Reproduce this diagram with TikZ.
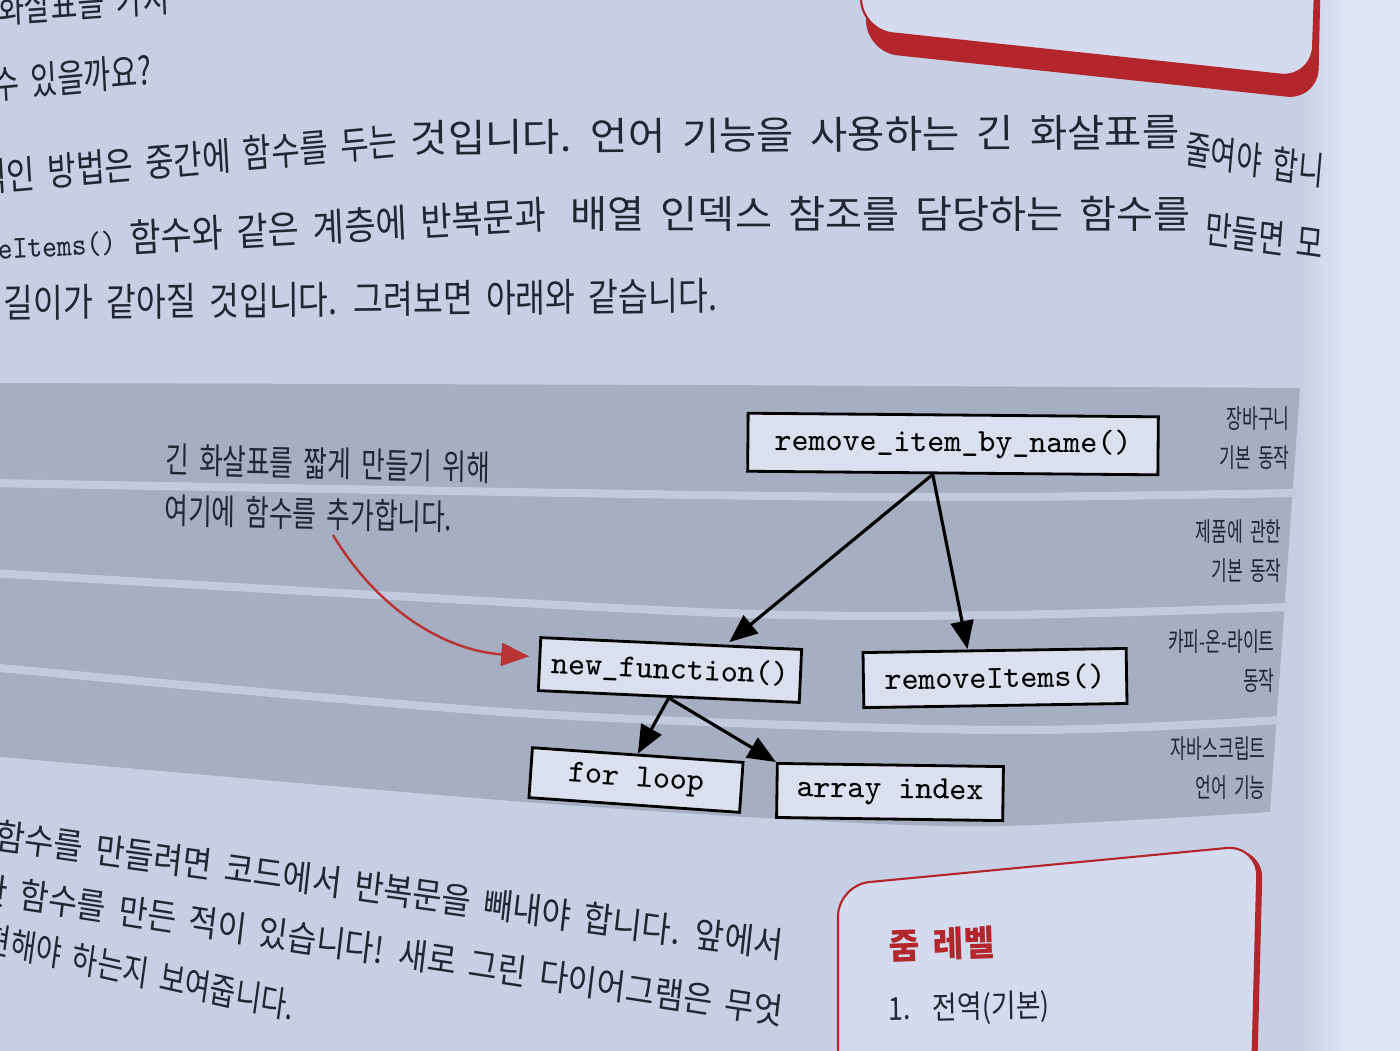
\documentclass[tikz,border=0pt]{standalone}
\usepackage{fontspec}
\usepackage{tikz}
\usetikzlibrary{arrows.meta,calc}
\newfontfamily\kr[WordSpace=1.8]{Noto Sans CJK KR}
\definecolor{paper}{RGB}{198,207,228}
\definecolor{gutter}{RGB}{222,228,244}
\definecolor{band}{RGB}{166,174,193}
\definecolor{sep}{RGB}{194,202,222}
\definecolor{boxfill}{RGB}{218,224,238}
\definecolor{sidefill}{RGB}{212,219,238}
\definecolor{redbox}{RGB}{178,38,44}
\definecolor{redline}{RGB}{185,52,52}
\definecolor{ink}{RGB}{34,37,50}

\begin{document}
\begin{tikzpicture}[x=0.01cm,y=-0.01cm,
  every node/.style={inner sep=0pt},
  body/.style={font=\kr\fontsize{11}{13}\selectfont, text=ink, anchor=west},
  low/.style={font=\kr\fontsize{10.2}{12}\selectfont, text=ink, anchor=west},
  fn/.style={draw=black, line width=0.8pt, fill=boxfill, font=\ttfamily\fontsize{9.2}{11}\selectfont, text=black},
  layer/.style={font=\kr\fontsize{7.5}{11.1}\selectfont, text=ink, align=right, anchor=east, xscale=0.65},
  call/.style={line width=0.9pt, -{Triangle[length=8pt,width=6.5pt]}},
  sepline/.style={draw=sep, line width=2.3pt}]

\useasboundingbox (0,0) rectangle (1400,1050);
\fill[paper] (-10,-10) rectangle (1410,1060);
\shade[left color=paper, right color=gutter] (1300,-10) rectangle (1345,1060);
\fill[gutter] (1345,-10) rectangle (1410,1060);

\fill[redbox, rounded corners=9pt] (866,-40) -- (866,52) -- (1318,100) -- (1321,-40) -- cycle;
\filldraw[fill=sidefill, draw=redbox, line width=0.6pt, rounded corners=9pt] (861,-40) -- (861,30) -- (1312,78) -- (1316,-40) -- cycle;

\node[body, xscale=0.75, rotate=3] (l0) at (-3,9) {화살표를 가지};
\node[body, xscale=0.75, rotate=4] (l1) at (-8,85) {수 있을까요?};
\node[body, xscale=0.8, rotate=4.1] (l2a) at (-22,178) {적인 방법은 중간에 함수를 두는};
\node[body, xscale=1.05, rotate=0.5] (l2b) at (410,138) {것입니다. 언어 기능을 사용하는 긴 화살표를};
\node[body, xscale=0.72, rotate=-7] (l2c) at (1185,148) {줄여야 합니};
\node[body, xscale=0.88, rotate=2.8] (l3a) at (-3,245) {{\ttfamily\fontsize{9.1}{11}\selectfont eItems()}\ 함수와 같은 계층에 반복문과};
\node[body, xscale=1.04] (l3b) at (570,214) {배열 인덱스 참조를 담당하는 함수를};
\node[body, xscale=0.75, rotate=-6] (l3c) at (1205,228) {만들면 모};
\node[body, xscale=0.84, rotate=0.5] (l4) at (3,303) {길이가 같아질 것입니다. 그려보면 아래와 같습니다.};

\fill[band] plot[smooth] coordinates {(-10,383) (700,385) (1300,388)} -- plot[smooth] coordinates {(1270,812) (1000,826) (800,820) (500,800) (-10,756)} -- cycle;
\draw[sepline] plot[smooth] coordinates {(-10,483) (700,495) (1000,497) (1296,493)};
\draw[sepline] plot[smooth] coordinates {(-10,573) (700,612) (1000,615) (1289,607)};
\draw[sepline] plot[smooth] coordinates {(-10,667) (520,713) (1000,730) (1280,720)};

\node[layer] (cart) at (1290,438) {장바구니\\기본 동작};
\node[layer] (prod) at (1282,551) {제품에 관한\\기본 동작};
\node[layer] (cow) at (1275,661) {카피-온-라이트\\동작};
\node[layer] (js) at (1266,768) {자바스크립트\\언어 기능};

\node[font=\kr\fontsize{10}{14.5}\selectfont, text=ink, align=left, anchor=north west, xscale=0.73, rotate=-1] (note) at (165,443) {긴 화살표를 짧게 만들기 위해\\여기에 함수를 추가합니다.};
\coordinate (tail) at (333,535);

\node[fn, minimum width=4.1cm, minimum height=0.58cm, rotate=-0.5] (rmv) at (953,444) {remove\_item\_by\_name()};
\node[fn, minimum width=2.61cm, minimum height=0.53cm, rotate=-2.6] (newfn) at (670,670) {new\_function()};
\node[fn, minimum width=2.63cm, minimum height=0.55cm, rotate=0.9] (rmitems) at (995,678) {removeItems()};
\node[fn, minimum width=2.11cm, minimum height=0.5cm, rotate=-4] (forloop) at (636,780) {for loop};
\node[fn, minimum width=2.26cm, minimum height=0.54cm, rotate=-0.8] (arridx) at (890,792) {array index};

\draw[call] ($(rmv.south)+(-20,0)$) -- ($(newfn.north)+(58,0)$);
\draw[call] ($(rmv.south)+(-20,0)$) -- ($(rmitems.north)+(-27,0)$);
\draw[call] (newfn.south) -- (forloop.north);
\draw[call] (newfn.south) -- (arridx.north west);
\draw[redline, line width=0.7pt, -{Triangle[length=8pt,width=6.5pt]}, shorten >=2.5pt] (tail) .. controls (375,605) and (440,650) .. ([yshift=2pt]newfn.west);

\node[low, xscale=0.89, rotate=-7.1] (la) at (-5,835) {함수를 만들려면 코드에서 반복문을 빼내야 합니다. 앞에서};
\node[low, xscale=0.88, rotate=-7.7] (lb) at (-22,888) {한 함수를 만든 적이 있습니다! 새로 그린 다이어그램은 무엇};
\node[low, xscale=0.78, rotate=-10] (lc) at (-15,937) {현해야 하는지 보여줍니다.};

\fill[redbox, rounded corners=9pt] (843,1080) -- (843,887) -- (1263,847) -- (1257,1080) -- cycle;
\filldraw[fill=sidefill, draw=redbox, line width=0.6pt, rounded corners=9pt] (838,1080) -- (838,885) -- (1258,845) -- (1252,1080) -- cycle;
\node[font=\kr\bfseries\fontsize{10}{12}\selectfont, text=redbox, anchor=west, xscale=0.95, rotate=2] (zoomtitle) at (888,946) {줌 레벨};
\node[font=\kr\fontsize{9}{11}\selectfont, text=ink, anchor=west, xscale=0.85, rotate=1] (zoomitem) at (888,1010) {1.~~전역(기본)};
\end{tikzpicture}
\end{document}
